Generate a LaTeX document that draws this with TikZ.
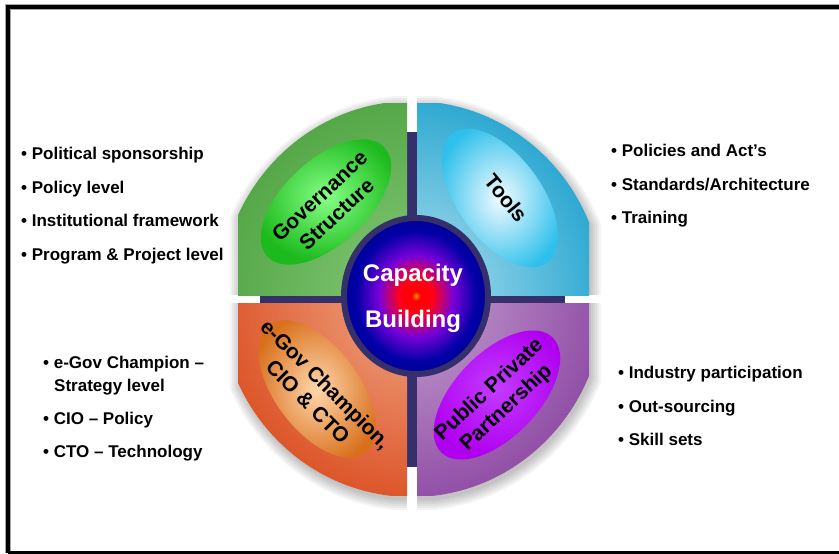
\documentclass[tikz,border=0pt]{standalone}
\usepackage{fontspec}
\setmainfont{Liberation Sans}
\usetikzlibrary{shapes.geometric}

\definecolor{hubnavy}{HTML}{35306C}
\definecolor{govout}{HTML}{55A848}
\definecolor{govin}{HTML}{86C978}
\definecolor{govlens}{HTML}{1DBA1D}
\definecolor{govlenslight}{HTML}{86FF86}
\definecolor{toolout}{HTML}{2FA9D2}
\definecolor{toolin}{HTML}{B4E2F0}
\definecolor{toollens}{HTML}{2EC0EC}
\definecolor{toollenslight}{HTML}{F2FBFF}
\definecolor{cioout}{HTML}{DD562B}
\definecolor{cioin}{HTML}{EFA886}
\definecolor{ciolens}{HTML}{D8701B}
\definecolor{ciolenslight}{HTML}{FFD6AC}
\definecolor{pppout}{HTML}{9250A6}
\definecolor{pppin}{HTML}{C4A0D2}
\definecolor{ppplens}{HTML}{B000F0}
\definecolor{ppplenslight}{HTML}{C23CFF}

\pgfdeclareradialshading{coreshade}{\pgfpoint{0bp}{0bp}}{%
  color(0bp)=(orange!80!yellow); color(1.5bp)=(red); color(6bp)=(red!90!magenta);
  color(13bp)=(magenta!55!blue!85!black); color(21bp)=(blue!65!black); color(25bp)=(blue!60!black); color(50bp)=(blue!60!black)}

\tikzset{
  sidetext/.style={anchor=base west, inner sep=0pt, font=\fontsize{17}{20}\selectfont\bfseries},
  lens/.style={ellipse, minimum width=160pt, minimum height=84pt, inner sep=0pt},
  lenstext/.style={align=center, inner sep=0pt, font=\fontsize{21}{25}\selectfont\bfseries},
}

\begin{document}
\begin{tikzpicture}[x=1pt, y=-1pt]
\useasboundingbox (0,0) rectangle (839,554);
\clip (0,0) rectangle (839,554);

% frame
\draw[line width=6.5pt, gray!70] (860,7) -- (8,7) -- (8,553);
\draw[line width=3.5pt] (860,7) -- (8,7) -- (8,553);
\draw[line width=4pt] (8,553) -- (860,553);

% soft shadow of the wheel
\foreach \s in {10,8,...,0} {
  \begin{scope}
    \clip ({240-\s},{106-\s}) rectangle ({591+\s},{499+\s});
    \fill[black, opacity=0.045] (414,303) ellipse [x radius={192+\s}, y radius={198+\s}];
  \end{scope}
}
% keep the gaps clear
\fill[white] (407,90) rectangle (417,132);
\fill[white] (407,467) rectangle (417,512);
\fill[white] (225,295) rectangle (260,303);
\fill[white] (565,295) rectangle (603,303);

% cross behind the quarters
\fill[hubnavy] (407,132) rectangle (417,467);
\fill[hubnavy] (260,295) rectangle (565,303);

% quarters
\begin{scope}
  \clip (238,103) rectangle (407,295);
  \shade[inner color=govin, outer color=govout] (412,299) ellipse [x radius=192, y radius=198];
\end{scope}
\begin{scope}
  \clip (417,103) rectangle (589,295);
  \shade[inner color=toolin, outer color=toolout] (412,299) ellipse [x radius=192, y radius=198];
\end{scope}
\begin{scope}
  \clip (238,303) rectangle (407,495);
  \shade[inner color=cioin, outer color=cioout] (412,299) ellipse [x radius=192, y radius=198];
\end{scope}
\begin{scope}
  \clip (417,303) rectangle (589,495);
  \shade[inner color=pppin, outer color=pppout] (412,299) ellipse [x radius=192, y radius=198];
\end{scope}

% lenses
\node[lens, rotate=43, inner color=govlenslight, outer color=govlens] (govlens) at (326,202) {};
\node[lens, rotate=-54, inner color=toollenslight, outer color=toollens] (toollens) at (500,198) {};
\node[lens, rotate=-53, inner color=ciolenslight, outer color=ciolens] (ciolens) at (317,389) {};
\node[lens, rotate=46, inner color=ppplenslight, outer color=ppplens] (ppplens) at (497,395) {};

\node[lenstext, rotate=43] (govtext) at (328,205) {Governance\\Structure};
\node[lenstext, rotate=-51] (tooltext) at (506,198) {Tools};
\node[lenstext, rotate=-45] (ciotext) at (317,393) {e-Gov Champion,\\CIO \& CTO};
\node[lenstext, rotate=43] (ppptext) at (498,399) {Public Private\\Partnership};

% centre
\node[ellipse, minimum width=144pt, minimum height=156pt, draw=hubnavy, line width=6pt, shading=coreshade] (core) at (416,296) {};
\node[align=center, text=white, font=\fontsize{24}{46}\selectfont\bfseries] (coretext) at (413,298) {Capacity\\Building};

% side lists
\node[sidetext] (gov1) at (21,159) {• Political sponsorship};
\node[sidetext] (gov2) at (21,193) {• Policy level};
\node[sidetext] (gov3) at (21,226) {• Institutional framework};
\node[sidetext] (gov4) at (21,260) {• Program \& Project level};

\node[sidetext] (tool1) at (611,156) {• Policies and Act’s};
\node[sidetext] (tool2) at (611,190) {• Standards/Architecture};
\node[sidetext] (tool3) at (611,223) {• Training};

\node[sidetext] (cio1) at (43,368) {• e-Gov Champion –};
\node[sidetext] (cio1b) at (54,391) {Strategy level};
\node[sidetext] (cio2) at (43,424) {• CIO – Policy};
\node[sidetext] (cio3) at (43,457) {• CTO – Technology};

\node[sidetext] (ppp1) at (618,378) {• Industry participation};
\node[sidetext] (ppp2) at (618,412) {• Out-sourcing};
\node[sidetext] (ppp3) at (618,445) {• Skill sets};
\end{tikzpicture}
\end{document}
